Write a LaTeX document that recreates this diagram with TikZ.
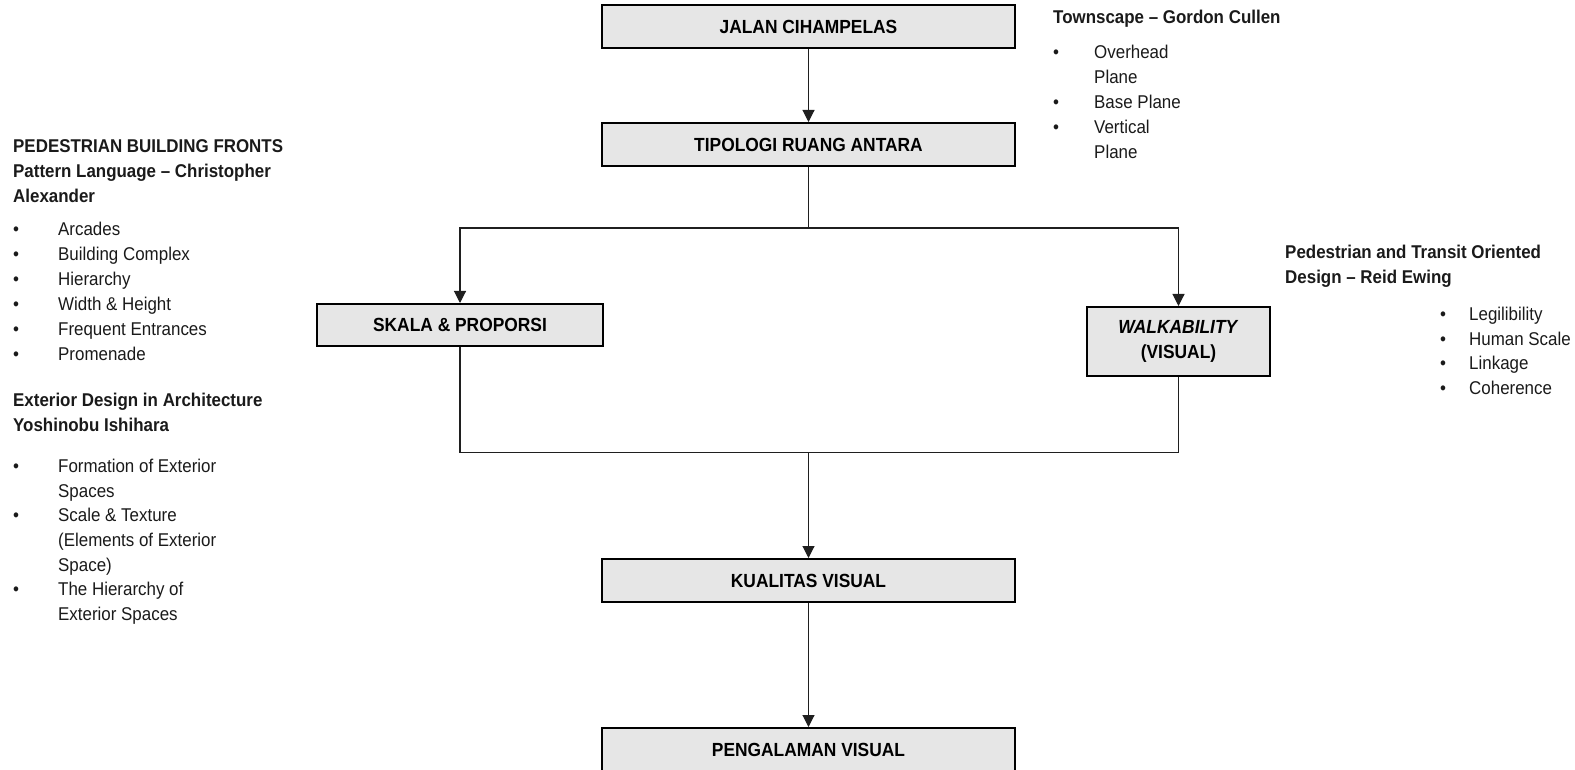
\documentclass[tikz,border=0pt]{standalone}
\usepackage{fontspec}
\setmainfont{Liberation Sans}[FakeStretch=0.915]
\usetikzlibrary{arrows.meta}
\definecolor{boxgray}{HTML}{E6E6E6}
\definecolor{linegray}{HTML}{1F1F1F}
\definecolor{textgray}{HTML}{1A1A1A}
\newcommand{\blt}[2]{\makebox[#1][l]{\textbullet}#2}
\newcommand{\ind}[1]{\makebox[#1]{}}
\begin{document}
\begin{tikzpicture}[x=1pt,y=-1pt,
  box/.style={draw=black, line width=2pt, fill=boxgray, minimum width=413pt,
    minimum height=43pt, inner sep=0pt, align=center,
    font=\fontsize{19}{25}\selectfont\bfseries},
  conn/.style={draw=linegray, line width=1.1pt},
  arr/.style={conn, -{Triangle[width=12pt,length=12pt]}},
  txt/.style={anchor=north west, inner sep=0pt, align=left, text=textgray,
    font=\fontsize{18.5}{25}\selectfont}]
\useasboundingbox (0,0) rectangle (1575,770);

% boxes
\node[box] (jalan) at (808.5,26.5) {JALAN CIHAMPELAS};
\node[box] (tipologi) at (808.5,144.5) {TIPOLOGI RUANG ANTARA};
\node[box, minimum width=286pt, minimum height=42pt] (skala) at (460,325) {SKALA \& PROPORSI};
\node[box, minimum width=183pt, minimum height=69pt] (walk) at (1178.5,341.5) {\textit{WALKABILITY}\\(VISUAL)};
\node[box] (kualitas) at (808.5,580.5) {KUALITAS VISUAL};
\node[box] (pengalaman) at (808.5,749.5) {PENGALAMAN VISUAL};

% connectors
\coordinate (split) at (808.5,228);
\coordinate (join) at (808.5,452.5);
\draw[arr] (jalan.south) -- (tipologi.north);
\draw[conn] (tipologi.south) -- (split);
\draw[arr] (split) -| (skala.north);
\draw[arr] (split) -| (walk.north);
\draw[conn] (skala.south) |- (join) -| (walk.south);
\draw[arr] (join) -- (kualitas.north);
\draw[arr] (kualitas.south) -- (pengalaman.north);

% side texts
\node[txt] (alexander) at (13,135) {\strut\textbf{PEDESTRIAN BUILDING FRONTS}\\
  \textbf{Pattern Language – Christopher}\\
  \textbf{Alexander}\\[7.5pt]
  \blt{45pt}{Arcades}\\
  \blt{45pt}{Building Complex}\\
  \blt{45pt}{Hierarchy}\\
  \blt{45pt}{Width \& Height}\\
  \blt{45pt}{Frequent Entrances}\\
  \blt{45pt}{Promenade}};

\node[txt, font=\fontsize{18.5}{24.7}\selectfont] (ishihara) at (13,389.5) {\strut\textbf{Exterior Design in Architecture}\\
  \textbf{Yoshinobu Ishihara}\\[16pt]
  \blt{45pt}{Formation of Exterior}\\
  \ind{45pt}Spaces\\
  \blt{45pt}{Scale \& Texture}\\
  \ind{45pt}(Elements of Exterior\\
  \ind{45pt}Space)\\
  \blt{45pt}{The Hierarchy of}\\
  \ind{45pt}Exterior Spaces};

\node[txt] (cullen) at (1053,5.5) {\strut\textbf{Townscape – Gordon Cullen}\\[10.5pt]
  \blt{41pt}{Overhead}\\
  \ind{41pt}Plane\\
  \blt{41pt}{Base Plane}\\
  \blt{41pt}{Vertical}\\
  \ind{41pt}Plane};

\node[txt] (ewing) at (1285,240.5) {\strut\textbf{Pedestrian and Transit Oriented}\\
  \textbf{Design – Reid Ewing}};

\node[txt, font=\fontsize{18.5}{24.6}\selectfont] (ewinglist) at (1440,303.3) {\strut\blt{29pt}{Legilibility}\\
  \blt{29pt}{Human Scale}\\
  \blt{29pt}{Linkage}\\
  \blt{29pt}{Coherence}};
\end{tikzpicture}
\end{document}
